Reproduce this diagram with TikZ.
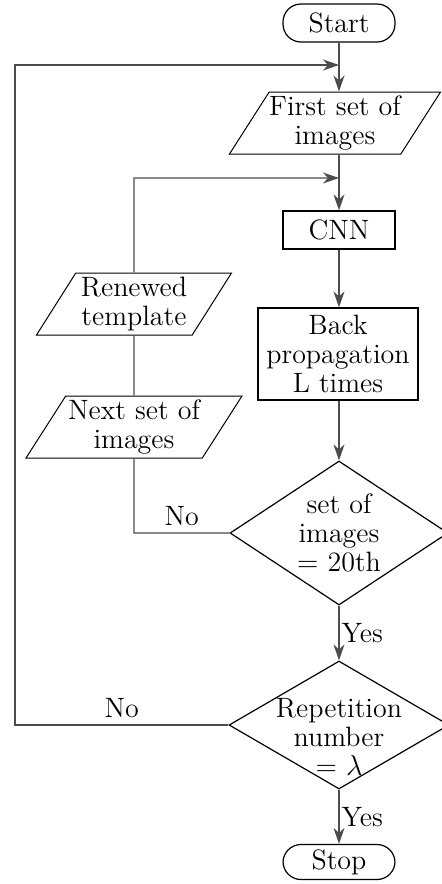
\documentclass[tikz,border=0pt]{standalone}
\usetikzlibrary{shapes.geometric,arrows.meta}

\tikzset{
  term/.style={draw, line width=0.6pt, rounded corners=9pt, minimum width=56pt, minimum height=19pt, inner sep=1pt},
  proc/.style={draw, line width=0.6pt, align=center, inner sep=2pt},
  io/.style={draw, line width=0.5pt, trapezium, trapezium left angle=54, trapezium right angle=126,
    trapezium stretches body, minimum height=31pt, align=center, inner sep=0pt},
  decide/.style={draw, line width=0.6pt, diamond, aspect=1.5, align=center, inner sep=-8pt},
  line/.style={draw=black!70, line width=0.7pt},
}

\begin{document}
\begin{tikzpicture}[x=0.5pt, y=-0.5pt, >={Stealth[length=8pt,width=5.5pt,inset=2.5pt]},
    font=\fontsize{14}{14.6}\selectfont]
  \useasboundingbox (0,0) rectangle (441,884);

  % main column
  \node[term] (start) at (339,23) {Start};
  \node[io, minimum width=100pt] (first) at (335,123) {First set of\\ images};
  \node[proc, minimum width=56pt, minimum height=19pt] (cnn) at (339,230) {CNN};
  \node[proc, minimum width=80pt, minimum height=46pt] (back) at (338,354) {Back\\ propagation\\ L times};
  \node[decide, minimum width=109pt, minimum height=72pt] (chk1) at (339,533) {set of\\ images\\ = 20th};
  \node[decide, minimum width=110pt, minimum height=64pt] (chk2) at (339,725) {};
  \node[align=center] (chk2txt) at (339,737) {Repetition\\ number\\ = $\lambda$};
  \node[term, minimum height=17.5pt] (stop) at (339,862) {Stop};

  % inner loop
  \node[io, minimum width=97.5pt] (renew) at (134,304) {Renewed\\ template};
  \node[io, minimum width=108pt] (next) at (134,427) {Next set of\\ images};

  \coordinate (j1) at (339,65);
  \coordinate (j2) at (339,178);
  \coordinate (o1) at (15,725);
  \coordinate (o2) at (15,65);
  \coordinate (i1) at (134,533);
  \coordinate (i2) at (134,178);

  \draw[line,->] (start) -- (start |- first.north);
  \draw[line,->] (start |- first.south) -- (cnn);
  \draw[line,->] (cnn) -- (cnn |- back.north);
  \draw[line,->] (cnn |- back.south) -- (chk1);
  \draw[line,->] (chk1) -- node[right, inner sep=1pt] (yes1) {Yes} (chk2);
  \draw[line,->] (chk2) -- node[right, inner sep=1pt] (yes2) {Yes} (stop);

  \draw[line] (chk1.west) -- node[above] (no1) {No} (i1) -- (next.south);
  \draw[line] (next) -- (renew);
  \draw[line,->] (renew.north) -- (i2) -- (j2);

  \draw[line,->] (chk2.west) -- node[above] (no2) {No} (o1) -- (o2) -- (j1);
\end{tikzpicture}
\end{document}
